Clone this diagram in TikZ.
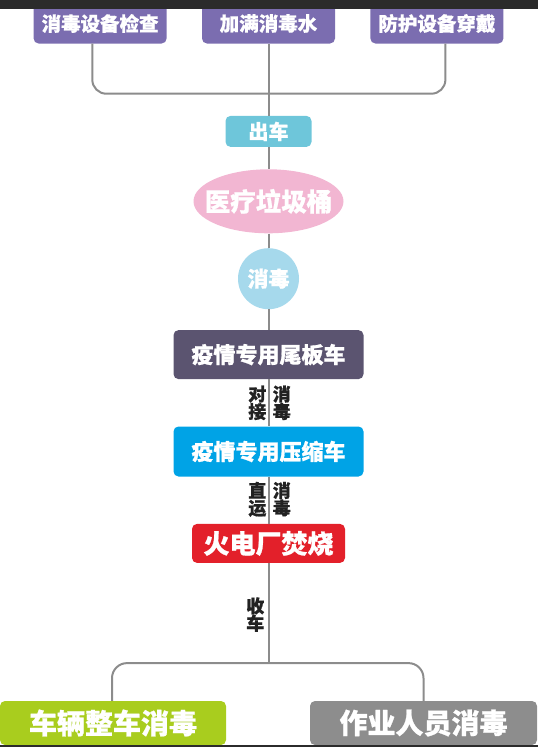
\documentclass[tikz,border=0pt]{standalone}
\usepackage{fontspec}
\usepackage{xcolor}
\usepackage{tikz}
\usetikzlibrary{shapes.geometric, positioning}
\newfontfamily\cjk{Noto Sans CJK SC}[BoldFeatures={FakeBold=0.8}]

\definecolor{barcol}{HTML}{2B2B2B}
\definecolor{prepcol}{HTML}{7B6DB0}
\definecolor{outcol}{HTML}{6EC6DA}
\definecolor{bincol}{HTML}{F2B6D2}
\definecolor{discol}{HTML}{A6D9EC}
\definecolor{tailcol}{HTML}{5B5470}
\definecolor{presscol}{HTML}{00A3E6}
\definecolor{firecol}{HTML}{E3202A}
\definecolor{carcol}{HTML}{A9CD1E}
\definecolor{staffcol}{HTML}{8D8D8D}
\definecolor{linecol}{HTML}{8C8C8C}
\definecolor{notecol}{HTML}{222222}

\begin{document}
\begin{tikzpicture}[
    x=1pt, y=1pt,
    box/.style={rectangle, rounded corners=5pt, inner sep=0pt, text=white, align=center, font=\cjk\bfseries\fontsize{19.5}{21}\selectfont},
    conn/.style={draw=linecol, line width=2pt},
    note/.style={inner sep=0pt, align=center, text=notecol, font=\cjk\bfseries\fontsize{18}{17.5}\selectfont}
]
\useasboundingbox (0,0) rectangle (538,-747);

% Preparation (top)
\node[box, fill=prepcol, minimum width=133pt, minimum height=40pt] (fill) at (268.5,-23.5) {加满消毒水};
\node[box, fill=prepcol, minimum width=133pt, minimum height=40pt, left=35pt of fill] (check) {消毒设备检查};
\node[box, fill=prepcol, minimum width=133pt, minimum height=40pt, right=35pt of fill] (wear) {防护设备穿戴};

% Main chain
\node[box, fill=outcol, minimum width=86pt, minimum height=31pt, font=\cjk\bfseries\fontsize{20}{22}\selectfont, below=72pt of fill] (out) {出车};
\node[ellipse, fill=bincol, text=white, inner sep=0pt, inner xsep=-13pt, minimum width=150pt, minimum height=64pt, font=\cjk\bfseries\fontsize{25.5}{27}\selectfont, below=22pt of out] (bin) {医疗垃圾桶};
\node[circle, fill=discol, text=white, inner sep=0pt, minimum size=61pt, font=\cjk\bfseries\fontsize{21}{23}\selectfont, below=14.5pt of bin] (disinf) {消毒};
\node[box, fill=tailcol, minimum width=190pt, minimum height=49pt, font=\cjk\bfseries\fontsize{22}{24}\selectfont, below=20.5pt of disinf] (tail) {疫情专用尾板车};
\node[box, fill=presscol, minimum width=190pt, minimum height=50pt, font=\cjk\bfseries\fontsize{22}{24}\selectfont, below=47pt of tail] (press) {疫情专用压缩车};
\node[box, fill=firecol, minimum width=153pt, minimum height=39pt, font=\cjk\bfseries\fontsize{26}{28}\selectfont, below=47pt of press] (fire) {火电厂焚烧};

% End of shift (bottom)
\node[box, fill=carcol, minimum width=226pt, minimum height=44pt, font=\cjk\bfseries\fontsize{28}{30}\selectfont] (car) at (113,-723) {车辆整车消毒};
\node[box, fill=staffcol, minimum width=227pt, minimum height=44pt, font=\cjk\bfseries\fontsize{28}{30}\selectfont] (staff) at (423.5,-723) {作业人员消毒};

% Labels on the line
\node[note, below left=6pt and 2pt of tail.south] (dock) {对\\接};
\node[note, below right=6pt and 4pt of tail.south] (dockdis) {消\\毒};
\node[note, below left=5pt and 2pt of press.south] (direct) {直\\运};
\node[note, below right=5pt and 4pt of press.south] (directdis) {消\\毒};
\node[note, below left=34pt and 4pt of fire.south] (back) {收\\车};

% Connectors
\draw[conn, rounded corners=14pt] ([xshift=-7.8pt]check.south) -- ++(0,-50) -| ([xshift=8.5pt]wear.south);
\draw[conn] (fill.south) -- (out.north);
\draw[conn] (out.south) -- (bin.north);
\draw[conn] (bin.south) -- (disinf.north);
\draw[conn] (disinf.south) -- (tail.north);
\draw[conn] (tail.south) -- (press.north);
\draw[conn] (press.south) -- (fire.north);
\draw[conn] (fire.south) -- ++(0,-100) coordinate (fork);
\draw[conn, rounded corners=15pt] ([xshift=-1pt]car.north) |- (fork) -| (staff.north);

% Frame bars
\fill[barcol] (0,0) rectangle (538,-9.3);
\fill[barcol] (0,-745.3) rectangle (538,-747);

\end{tikzpicture}
\end{document}
